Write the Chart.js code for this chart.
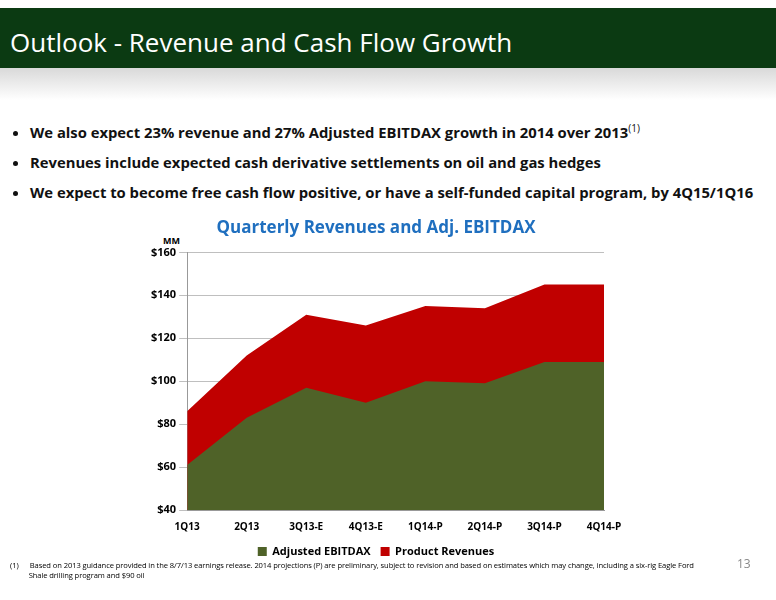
<!DOCTYPE html>
<html><head><meta charset="utf-8">
<script src="https://cdn.jsdelivr.net/npm/chart.js@4.4.0/dist/chart.umd.min.js"></script>
<style>
body{margin:0;width:776px;height:600px;background:#fff;font-family:"Open Sans",Calibri,sans-serif;position:relative;overflow:hidden}
#hdr{position:absolute;left:0;top:8px;width:776px;height:60px;background:#0b3a12;}
#hdr2{position:absolute;left:0;top:68px;width:776px;height:32px;background:linear-gradient(#d9d9d9,#fff);}
#hdr span{position:absolute;left:10px;top:16px;color:#fff;font-size:26px}
ul{position:absolute;left:12px;top:121px;margin:0;padding-left:18px;font-size:14.8px;font-weight:bold;color:#111}
li{margin-bottom:10px}
#fn{position:absolute;left:10px;top:560px;font-size:7.6px;color:#000;width:760px;letter-spacing:-0.1px}
#pg{position:absolute;left:737px;top:555px;font-size:12px;color:#888}
#wrap{position:absolute;left:130px;top:218px;width:510px;height:349px}
#mm{position:absolute;left:163px;top:234px;font-size:9px;font-weight:bold}
</style></head><body>
<div id="hdr"><span>Outlook - Revenue and Cash Flow Growth</span></div>
<div id="hdr2"></div>
<ul>
<li>We also expect 23% revenue and 27% Adjusted EBITDAX growth in 2014 over 2013<sup style="font-weight:normal;font-size:10px">(1)</sup></li>
<li>Revenues include expected cash derivative settlements on oil and gas hedges</li>
<li>We expect to become free cash flow positive, or have a self-funded capital program, by 4Q15/1Q16</li>
</ul>
<div id="mm">MM</div>
<div id="wrap"><canvas id="c"></canvas></div>
<div id="fn">(1)&nbsp;&nbsp;&nbsp;&nbsp;&nbsp; Based on 2013 guidance provided in the 8/7/13 earnings release. 2014 projections (P) are preliminary, subject to revision and based on estimates which may change, including a six-rig Eagle Ford<br>&nbsp;&nbsp;&nbsp;&nbsp;&nbsp;&nbsp;&nbsp;&nbsp;&nbsp; Shale drilling program and $90 oil</div>
<div id="pg">13</div>
<script>
Chart.defaults.font.family="'Open Sans', sans-serif";
const categories=["1Q13","2Q13","3Q13-E","4Q13-E","1Q14-P","2Q14-P","3Q14-P","4Q14-P"];
const ebitdax=[61,83,97,90,100,99,109,109];
const revenues=[86,112,131,126,135,134,145,145];
const yTicks=[40,60,80,100,120,140,160];
new Chart(document.getElementById('c'),{type:'line',
data:{labels:categories,datasets:[
{label:'Adjusted EBITDAX',data:ebitdax,fill:'start',backgroundColor:'#4f6228',borderWidth:0,pointRadius:0,tension:0,order:0},
{label:'Product Revenues',data:revenues,fill:'start',backgroundColor:'#c00000',borderWidth:0,pointRadius:0,tension:0,order:1}]},
options:{responsive:true,maintainAspectRatio:false,animation:false,
layout:{padding:{left:18,right:36,top:0,bottom:0}},
plugins:{title:{display:true,text:'Quarterly Revenues and Adj. EBITDAX',color:'#1f6fbf',font:{size:17,weight:'bold'},padding:{top:0,bottom:14}},
legend:{position:'bottom',labels:{boxWidth:9,boxHeight:9,color:'#000',font:{size:11,weight:'bold'},
generateLabels:c=>c.data.datasets.map((d,i)=>({text:d.label,fillStyle:d.backgroundColor,strokeStyle:d.backgroundColor,lineWidth:0,datasetIndex:i}))}},tooltip:{enabled:false}},
scales:{x:{offset:false,grid:{display:false},border:{color:'#999'},ticks:{color:'#000',font:{size:10,weight:'bold'}}},
y:{min:40,max:160,afterBuildTicks:a=>{a.ticks=yTicks.map(v=>({value:v}))},grid:{color:'#bfbfbf'},border:{color:'#999'},ticks:{color:'#000',font:{size:11,weight:'bold'},callback:v=>'$'+v}}}}});
</script></body></html>
